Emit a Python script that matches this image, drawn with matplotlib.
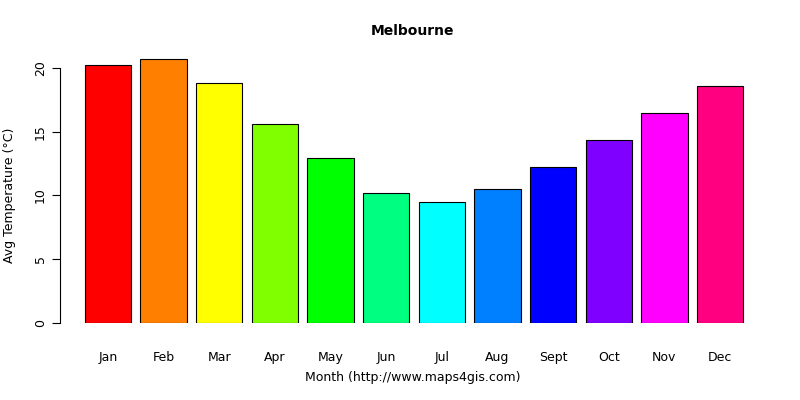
import matplotlib
matplotlib.use("Agg")
import matplotlib.pyplot as plt

months = ["Jan", "Feb", "Mar", "Apr", "May", "Jun", "Jul", "Aug", "Sept", "Oct", "Nov", "Dec"]
temps = [20.2, 20.7, 18.8, 15.6, 12.9, 10.2, 9.5, 10.5, 12.2, 14.35, 16.5, 18.6]
colors = ["#FF0000", "#FF8000", "#FFFF00", "#80FF00", "#00FF00", "#00FF80",
          "#00FFFF", "#0080FF", "#0000FF", "#8000FF", "#FF00FF", "#FF0080"]

W, H = 800, 400
fig = plt.figure(figsize=(8, 4), dpi=100)
ax = fig.add_axes([60 / W, 1 - 323 / H, 730 / W, (323 - 50) / H])

xs = [0.7 + 1.2 * i for i in range(len(months))]
ax.bar(xs, temps, width=1.0, color=colors, edgecolor="black", linewidth=0.8)
ax.set_xlim(-0.335, 15.41)
ax.set_ylim(0, 21.4)

for s in ["top", "right", "bottom"]:
    ax.spines[s].set_visible(False)
ax.spines["left"].set_bounds(0, 20)
ax.spines["left"].set_position(("outward", 0))
ax.set_yticks([0, 5, 10, 15, 20])
ax.set_yticklabels(["0", "5", "10", "15", "20"], rotation=90, va="center", fontsize=9)
ax.tick_params(axis="y", length=6)
ax.set_xticks(xs)
ax.set_xticklabels(months, fontsize=9)
ax.tick_params(axis="x", length=0, pad=20)

fig.text(413 / W, 1 - 31 / H, "Melbourne", ha="center", va="center", fontsize=10, fontweight="bold")
fig.text(413 / W, 1 - 378 / H, "Month (http://www.maps4gis.com)", ha="center", va="center", fontsize=9)
fig.text(10 / W, 1 - 195 / H, "Avg Temperature (°C)", ha="center", va="center", rotation=90, fontsize=9)

fig.savefig("out.png", dpi=100)
